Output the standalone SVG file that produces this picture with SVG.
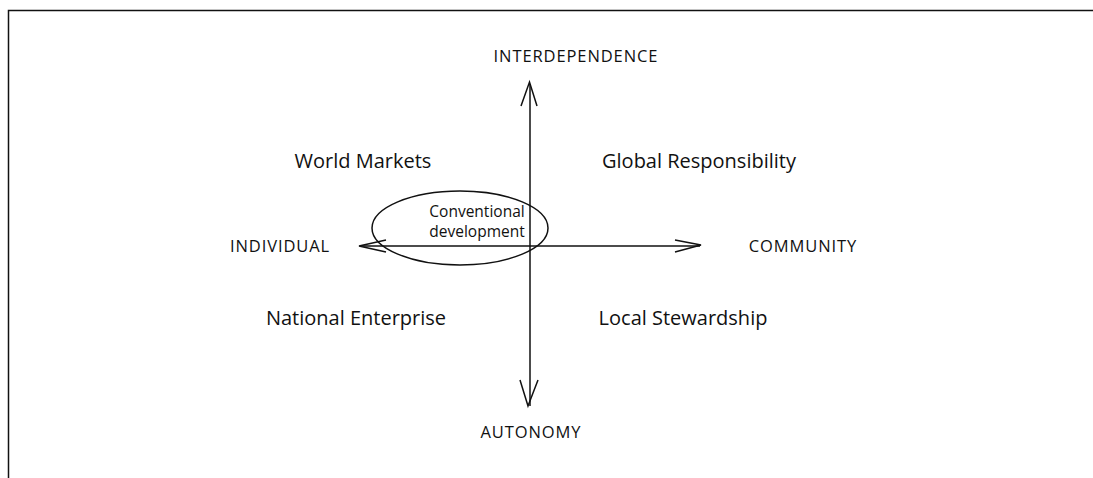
<svg xmlns="http://www.w3.org/2000/svg" width="1093" height="478" viewBox="0 0 1093 478">
<style>
.axis{font-family:"Open Sans","Liberation Sans",sans-serif;font-size:16.5px;fill:#111;letter-spacing:0.9px}
.quad{font-family:"Open Sans","Liberation Sans",sans-serif;font-size:20px;fill:#111}
.small{font-family:"Open Sans","Liberation Sans",sans-serif;font-size:15.5px;fill:#111}
.line{stroke:#111;stroke-width:1.5;fill:none}
</style>
<rect width="1093" height="478" fill="#fff"/>
<g id="frame">
<path d="M8.5 478 V10.5 H1093" class="line" stroke-width="2"/>
</g>
<g id="connectors">
<line x1="530" y1="84" x2="530" y2="406" class="line"/>
<path d="M521 106 L529.5 82 L537 106" class="line" stroke-width="2"/>
<path d="M520 380 L528 406 L538 380" class="line" stroke-width="2"/>
<line x1="360" y1="246" x2="700" y2="246" class="line"/>
<path d="M386 240 L359 246 L386 252" class="line" stroke-width="2"/>
<path d="M675 240 L701 245 L675 252" class="line" stroke-width="1.5"/>
</g>
<g id="n-interdependence"><text class="axis" x="576" y="62" text-anchor="middle">INTERDEPENDENCE</text></g>
<g id="n-autonomy"><text class="axis" x="531" y="438" text-anchor="middle">AUTONOMY</text></g>
<g id="n-individual"><text class="axis" x="280" y="252" text-anchor="middle">INDIVIDUAL</text></g>
<g id="n-community"><text class="axis" x="803" y="252" text-anchor="middle">COMMUNITY</text></g>
<g id="n-world"><text class="quad" x="363" y="168" text-anchor="middle">World Markets</text></g>
<g id="n-global"><text class="quad" x="699" y="168" text-anchor="middle">Global Responsibility</text></g>
<g id="n-national"><text class="quad" x="356" y="325" text-anchor="middle">National Enterprise</text></g>
<g id="n-local"><text class="quad" x="683" y="325" text-anchor="middle">Local Stewardship</text></g>
<g id="n-conventional">
<ellipse cx="460" cy="228" rx="88" ry="37" class="line" stroke-width="2"/>
<text class="small" x="477" y="217" text-anchor="middle">Conventional</text>
<text class="small" x="477" y="237" text-anchor="middle">development</text>
</g>
</svg>
